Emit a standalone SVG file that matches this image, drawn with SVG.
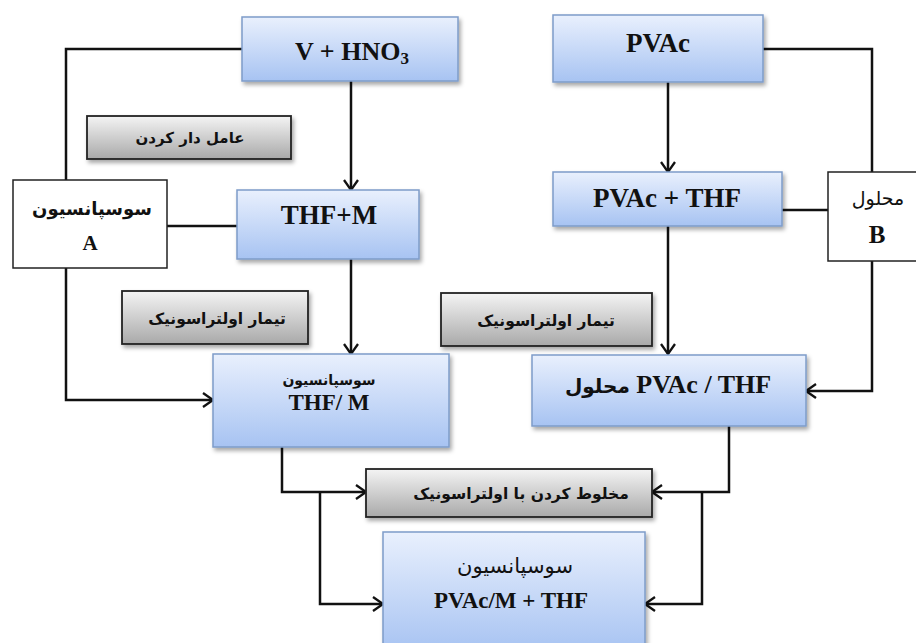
<svg xmlns="http://www.w3.org/2000/svg" width="916" height="643" viewBox="0 0 916 643">
<defs>
<linearGradient id="gb" x1="0" y1="0" x2="0" y2="1">
<stop offset="0" stop-color="#e9f0fd"/>
<stop offset="1" stop-color="#a7c3f2"/>
</linearGradient>
<linearGradient id="gg" x1="0" y1="0" x2="0" y2="1">
<stop offset="0" stop-color="#f4f4f4"/>
<stop offset="1" stop-color="#a9a9a9"/>
</linearGradient>
<filter id="sh" x="-10%" y="-10%" width="130%" height="140%">
<feDropShadow dx="2" dy="3" stdDeviation="2" flood-color="#000" flood-opacity="0.35"/>
</filter>
<marker id="ar" viewBox="0 0 12 16" refX="11" refY="8" markerWidth="12" markerHeight="16" markerUnits="userSpaceOnUse" orient="auto">
<path d="M1,1 L11,8 L1,15" fill="none" stroke="#111" stroke-width="2.3"/>
</marker>
</defs>
<style>
.blue{fill:url(#gb);stroke:#7e9cc9;stroke-width:1.5;filter:url(#sh)}
.gray{fill:url(#gg);stroke:#222;stroke-width:1.8;filter:url(#sh)}
.white{fill:#fff;stroke:#222;stroke-width:1.5}
.ln{fill:none;stroke:#111;stroke-width:2.5}
.arr{marker-end:url(#ar)}
.lat{font-family:"Liberation Serif","DejaVu Serif",serif;font-weight:bold;fill:#111;text-anchor:middle}
.ar{font-family:"DejaVu Sans","Noto Sans",sans-serif;font-weight:bold;fill:#111;text-anchor:middle}
.arn{font-family:"DejaVu Sans","Noto Sans",sans-serif;font-weight:normal;fill:#111;text-anchor:middle}
</style>
<rect width="916" height="643" fill="#fff"/>
<g id="connectors">
<path class="ln" d="M242,49 H66 V180"/>
<path class="ln arr" d="M351,81 V190"/>
<path class="ln" d="M167,226 H237"/>
<path class="ln arr" d="M66,268 V400 H213"/>
<path class="ln arr" d="M351,259 V354"/>
<path class="ln" d="M763,49 H872 V172"/>
<path class="ln arr" d="M668,82 V172"/>
<path class="ln" d="M782,210 H828"/>
<path class="ln arr" d="M872,261 V391 H806"/>
<path class="ln arr" d="M668,226 V354"/>
<path class="ln arr" d="M282,447 V492 H366"/>
<path class="ln arr" d="M729,426 V492 H652"/>
<path class="ln arr" d="M320,492 V604 H383"/>
<path class="ln arr" d="M702,492 V604 H645"/>
</g>
<g id="n-vhno3">
<rect class="blue" x="242" y="17" width="216" height="64"/>
<text class="lat" x="352" y="60" font-size="26">V + HNO<tspan font-size="17" dy="4">3</tspan></text>
</g>
<g id="n-pvac">
<rect class="blue" x="553" y="15" width="210" height="67"/>
<text class="lat" x="658" y="52" font-size="27">PVAc</text>
</g>
<g id="n-functionalize">
<rect class="gray" x="87" y="116" width="204" height="43"/>
<text class="ar" x="190" y="143" font-size="15">عامل دار کردن</text>
</g>
<g id="n-suspA">
<rect class="white" x="13" y="180" width="154" height="88"/>
<text class="ar" x="92" y="215" font-size="18">سوسپانسیون</text>
<text class="lat" x="90" y="250" font-size="21">A</text>
</g>
<g id="n-thfm">
<rect class="blue" x="237" y="190" width="182" height="69"/>
<text class="lat" x="329" y="224" font-size="27">THF+M</text>
</g>
<g id="n-pvacthf">
<rect class="blue" x="553" y="172" width="229" height="54"/>
<text class="lat" x="667" y="207" font-size="27">PVAc + THF</text>
</g>
<g id="n-solB">
<rect class="white" x="828" y="172" width="100" height="89"/>
<text class="arn" x="878" y="205" font-size="19">محلول</text>
<text class="lat" x="877" y="243" font-size="25">B</text>
</g>
<g id="n-ultra1">
<rect class="gray" x="122" y="291" width="186" height="53"/>
<text class="ar" x="217" y="324" font-size="15.5">تیمار اولتراسونیک</text>
</g>
<g id="n-ultra2">
<rect class="gray" x="441" y="293" width="211" height="53"/>
<text class="ar" x="546" y="326" font-size="15.5">تیمار اولتراسونیک</text>
</g>
<g id="n-suspthfm">
<rect class="blue" x="213" y="354" width="236" height="93"/>
<text class="ar" x="329" y="385" font-size="14">سوسپانسیون</text>
<text class="lat" x="329" y="410" font-size="23">THF/ M</text>
</g>
<g id="n-solpvac">
<rect class="blue" x="532" y="355" width="274" height="71"/>
<text class="lat" x="668" y="393" font-size="26"><tspan font-family="DejaVu Sans,sans-serif" font-size="20">محلول</tspan> PVAc / THF</text>
</g>
<g id="n-mix">
<rect class="gray" x="366" y="469" width="286" height="48"/>
<text class="ar" x="521" y="499" font-size="15.5">مخلوط کردن با اولتراسونیک</text>
</g>
<g id="n-final">
<rect class="blue" x="383" y="532" width="262" height="120"/>
<text class="arn" x="515" y="573" font-size="21">سوسپانسیون</text>
<text class="lat" x="511" y="608" font-size="23">PVAc/M + THF</text>
</g>
</svg>
